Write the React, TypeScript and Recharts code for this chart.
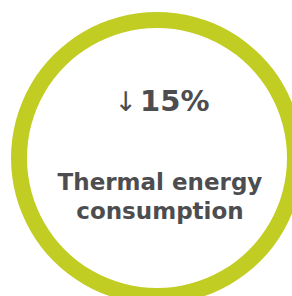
import { PieChart, Pie, Cell, Label } from "recharts";

// ── Data ──────────────────────────────────────────────────────────
const metricLabels = ["Thermal energy", "consumption"];
const changeValues = [15];
const changeArrows = ["↓"];
const ringValues = [100];

const RING_COLOR = "#c1cd23";
const TEXT_COLOR = "#4d4d4f";
const FONT = "'DejaVu Sans', Verdana, sans-serif";
const CX = 157;
const CY = 158;

const ringData = ringValues.map((v, i) => ({ name: metricLabels.join(" "), value: v, idx: i }));

function CenterText() {
  return (
    <g fontFamily={FONT} fill={TEXT_COLOR}>
      <text x={CX + 5} y={CY - 47} textAnchor="middle" fontSize={29}>
        <tspan fontWeight="normal" fontSize={27}>{changeArrows[0]}</tspan>
        <tspan fontWeight="bold" dx={3}>{`${changeValues[0]}%`}</tspan>
      </text>
      {metricLabels.map((line, i) => (
        <text
          key={line}
          x={CX + 3}
          y={CY + 32 + i * 29}
          textAnchor="middle"
          fontSize={23}
          fontWeight="bold"
        >
          {line}
        </text>
      ))}
    </g>
  );
}

export default function App() {
  return (
    <div style={{ position: "absolute", left: 0, top: 0, width: 292, height: 296, background: "#fff" }}>
      <PieChart width={292} height={296} margin={{ top: 0, right: 0, bottom: 0, left: 0 }}>
        <Pie
          data={ringData}
          dataKey="value"
          cx={CX}
          cy={CY}
          innerRadius={130}
          outerRadius={146}
          startAngle={90}
          endAngle={-270}
          stroke="none"
          isAnimationActive={false}
        >
          {ringData.map((d) => (
            <Cell key={d.idx} fill={RING_COLOR} />
          ))}
          <Label position="center" content={<CenterText />} />
        </Pie>
      </PieChart>
    </div>
  );
}
